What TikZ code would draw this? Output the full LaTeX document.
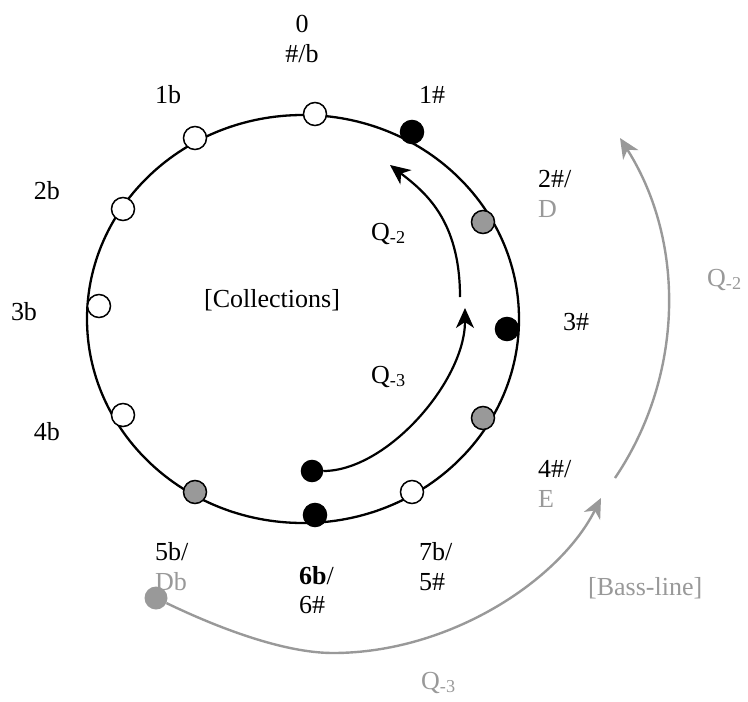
\documentclass[tikz,border=0pt]{standalone}
\usepackage{fontspec}
\setmainfont{Liberation Serif}
\usetikzlibrary{arrows.meta}
\definecolor{lg}{RGB}{153,153,153}
\begin{document}
\begin{tikzpicture}[x=1pt,y=-1pt,
  lbl/.style={inner sep=0pt, font=\fontsize{26}{30}\selectfont},
  dotw/.style={circle, draw=black, fill=white, line width=1.5pt, minimum size=23pt, inner sep=0pt},
  dotb/.style={dotw, fill=black},
  dotg/.style={dotw, fill=lg},
  ringline/.style={line width=2.3pt},
  arr/.style={line width=2.2pt, -{Stealth[length=20pt,width=18pt,inset=6pt]}},
  garr/.style={arr, draw=lg, line width=2.4pt},
]
\useasboundingbox (0,0) rectangle (748,702);

% labels
\node[lbl, anchor=base] (l0) at (302,32) {0};
\node[lbl, anchor=base] (l0b) at (302,62) {\#/b};
\node[lbl, anchor=base] (l1s) at (432,103) {1\#};
\node[lbl, anchor=base] (l1b) at (168,103) {1b};
\node[lbl, anchor=base] (l2b) at (47,199) {2b};
\node[lbl, anchor=base] (l3b) at (24,320) {3b};
\node[lbl, anchor=base] (l4b) at (47,440) {4b};
\node[lbl, anchor=base west] (l2s) at (538,187) {2\#/};
\node[lbl, anchor=base west, text=lg] (lD) at (538,217) {D};
\node[lbl, anchor=base] (l3s) at (576,330) {3\#};
\node[lbl, anchor=base west] (l4s) at (538,477) {4\#/};
\node[lbl, anchor=base west, text=lg] (lE) at (538,507) {E};
\node[lbl, anchor=base west] (l5b) at (155,560) {5b/};
\node[lbl, anchor=base west, text=lg] (lDb) at (155,590) {Db};
\node[lbl, anchor=base west] (l6b) at (299,584) {\textbf{6b}/};
\node[lbl, anchor=base west] (l6s) at (299,613) {6\#};
\node[lbl, anchor=base west] (l7b) at (419,560) {7b/};
\node[lbl, anchor=base west] (l5s) at (419,590) {5\#};
\node[lbl, anchor=base west, text=lg] (lbass) at (588,595) {[Bass-line]};
\node[lbl, anchor=base west, text=lg] (lq3o) at (421,689) {Q\textsubscript{-3}};
\node[lbl, anchor=base west, text=lg] (lq2o) at (707,286) {Q\textsubscript{-2}};
\node[lbl, anchor=base west] (lq2i) at (371,240) {Q\textsubscript{-2}};
\node[lbl, anchor=base west] (lq3i) at (371,383) {Q\textsubscript{-3}};
\node[lbl, anchor=base west] (lcoll) at (204,307) {[Collections]};

% ring
\draw[ringline] (303,319) ellipse [x radius=216, y radius=204];

% dots
\node[dotw] (d0) at (315,114) {};
\node[dotb] (d1s) at (412,132) {};
\node[dotg] (d2s) at (483,222) {};
\node[dotb] (d3s) at (507,329) {};
\node[dotg] (d4s) at (483,418) {};
\node[dotw] (d7b) at (412,492) {};
\node[dotb] (d6b) at (315,515) {};
\node[dotg] (d5b) at (195,492) {};
\node[dotw] (d4b) at (123,415) {};
\node[dotw] (d3b) at (99,306) {};
\node[dotw] (d2b) at (123,209) {};
\node[dotw] (d1b) at (195,138) {};
\node[dotb, minimum size=21pt] (inner) at (312,471) {};
\node[circle, fill=lg, minimum size=23pt, inner sep=0pt] (gdot) at (156,598) {};

% inner arrows
\coordinate (q2s) at (460,297);
\coordinate (q2e) at (390,165);
\draw[arr] (q2s) .. controls (460,220) and (425,192) .. (q2e);
\coordinate (q3e) at (465,308);
\draw[arr] (inner) .. controls (387,471) and (465,381) .. (q3e);

% outer gray arrows
\coordinate (g2s) at (615,478);
\coordinate (g2e) at (620,138);
\draw[garr] (g2s) .. controls (684,376) and (686,242) .. (g2e);
\coordinate (glow) at (333,653);
\coordinate (g3e) at (601,498);
\draw[garr] (gdot) .. controls (216,627) and (283,653) .. (glow) .. controls (450,653) and (560,580) .. (g3e);
\end{tikzpicture}
\end{document}
